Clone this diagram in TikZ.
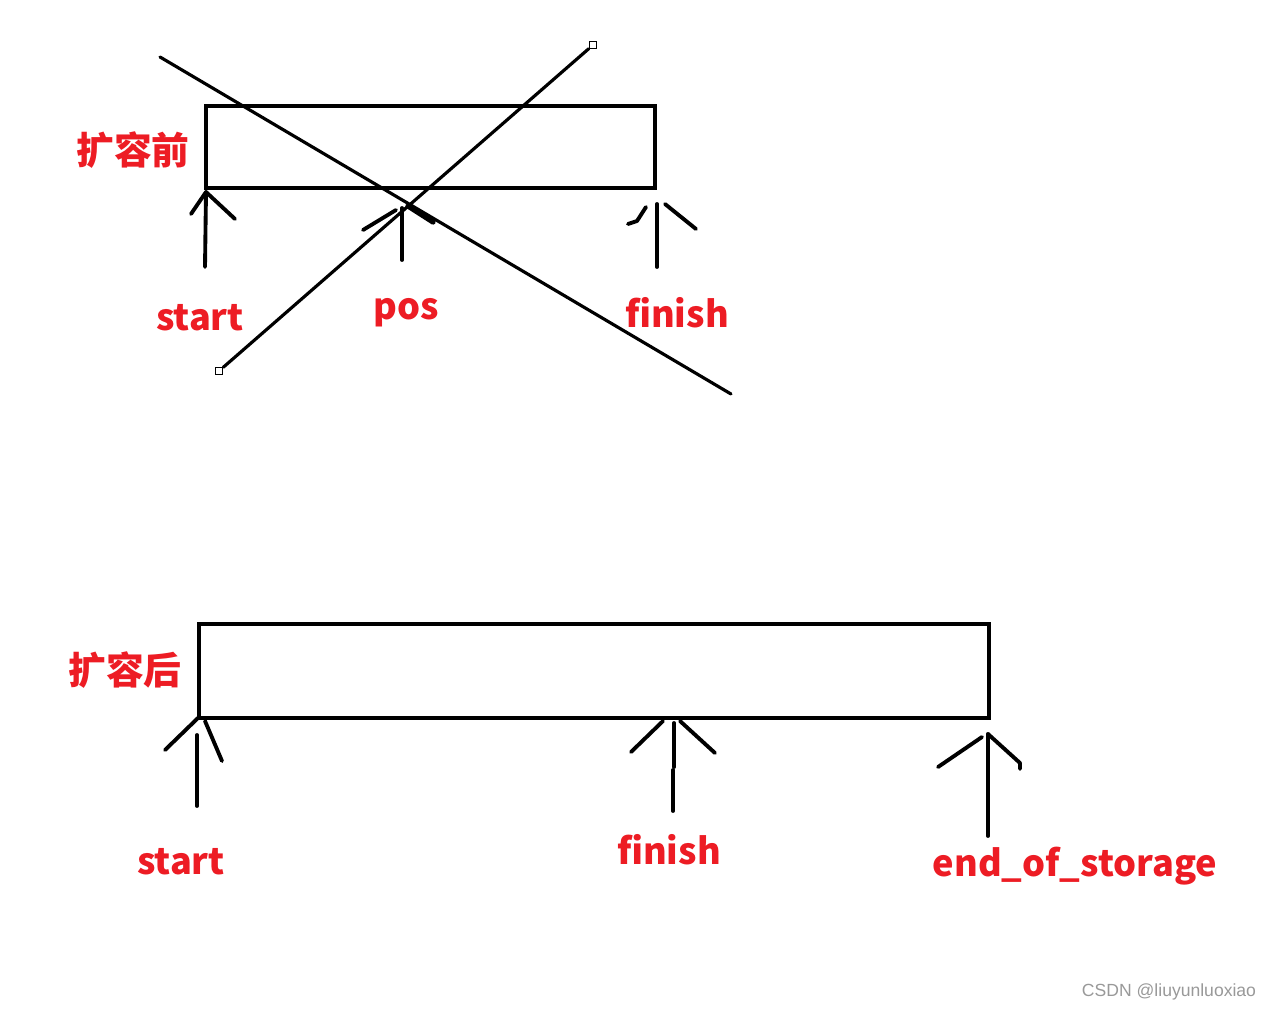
\documentclass[tikz,border=0pt]{standalone}
\usepackage{fontspec}
\newfontfamily\lab{Noto Sans CJK SC}
\newfontfamily\wm{Liberation Sans}
\definecolor{lblred}{RGB}{237,28,36}
\begin{document}
\begin{tikzpicture}[x=0.02cm,y=-0.02cm,
  box/.style={draw=black,line width=2.4pt},
  stroke/.style={draw=black,line width=2.2pt,line cap=round,line join=round},
  cross/.style={draw=black,line width=1.8pt,line cap=round},
  handle/.style={draw=black,fill=white,line width=0.5pt,minimum size=4.4pt,inner sep=0pt,rectangle},
  lbl/.style={text=lblred,font=\lab\bfseries\fontsize{20.6}{24}\selectfont,inner sep=0pt},
  cjk/.style={text=lblred,font=\lab\bfseries\fontsize{21.5}{24}\selectfont,inner sep=0pt},
  wmark/.style={text=black!40,font=\wm\fontsize{10}{12}\selectfont,inner sep=0pt}]
\useasboundingbox (0,0) rectangle (1273,1011);
\fill[white] (0,0) rectangle (1273,1011);
% boxes
\draw[box] (206,106) rectangle (655,188);
\draw[box] (199,624) rectangle (989,718);
% cross lines
\coordinate (c1a) at (160,57);
\coordinate (c1b) at (731,394);
\draw[cross] (c1a) -- (c1b);
\node[handle] (h1) at (593,45) {};
\node[handle] (h2) at (219,371) {};
\draw[cross] (h1) -- (h2);
% top arrows
\coordinate (ts1) at (205,267); \coordinate (ts2) at (206,192);
\coordinate (tsl) at (191,214); \coordinate (tsr) at (235,219);
\draw[stroke] (ts1) -- (ts2);
\draw[stroke] (tsl) -- (ts2) -- (tsr);
\coordinate (tp1) at (402,260); \coordinate (tp2) at (402,208);
\coordinate (tpl) at (363,230); \coordinate (tpla) at (396,210);
\coordinate (tpra) at (408,206); \coordinate (tpr) at (433,222);
\draw[stroke] (tp1) -- (tp2);
\draw[stroke] (tpl) -- (tpla);
\draw[stroke,line width=3pt] (tpra) -- (tpr);
\coordinate (tf1) at (657,267); \coordinate (tf2) at (657,204);
\coordinate (tfl1) at (628,224); \coordinate (tfl2) at (637,221); \coordinate (tfl3) at (646,207);
\coordinate (tfr1) at (665,204); \coordinate (tfr2) at (696,229);
\draw[stroke] (tf1) -- (tf2);
\draw[stroke] (tfl1) -- (tfl2) -- (tfl3);
\draw[stroke] (tfr1) -- (tfr2);
% bottom arrows
\coordinate (bs1) at (197,806); \coordinate (bs2) at (197,735);
\coordinate (bsa) at (199,717); \coordinate (bsl) at (165,750);
\coordinate (bsr1) at (205,721); \coordinate (bsr2) at (222,761);
\draw[stroke] (bs1) -- (bs2);
\draw[stroke] (bsl) -- (bsa);
\draw[stroke] (bsr1) -- (bsr2);
\coordinate (bf1) at (673,811); \coordinate (bf2) at (673,770);
\coordinate (bf3) at (674,767); \coordinate (bf4) at (674,723);
\coordinate (bfl1) at (631,752); \coordinate (bfl2) at (663,721);
\coordinate (bfr1) at (680,721); \coordinate (bfr2) at (715,753);
\draw[stroke] (bf1) -- (bf2);
\draw[stroke] (bf3) -- (bf4);
\draw[stroke] (bfl1) -- (bfl2);
\draw[stroke] (bfr1) -- (bfr2);
\coordinate (be1) at (988,836); \coordinate (be2) at (988,734);
\coordinate (bel1) at (938,767); \coordinate (bel2) at (982,737);
\coordinate (ber) at (1020,763); \coordinate (bert) at (1020,769);
\draw[stroke] (be1) -- (be2);
\draw[stroke] (bel1) -- (bel2);
\draw[stroke] (be2) -- (ber) -- (bert);
% labels
\node[cjk] (lbefore) at (133,150) {扩容前};
\node[lbl] (lstart1) at (200,318) {start};
\node[lbl] (lpos) at (406,313) {pos};
\node[lbl] (lfinish1) at (677,313) {finish};
\node[cjk] (lafter) at (125,670) {扩容后};
\node[lbl] (lstart2) at (181,862) {start};
\node[lbl] (lfinish2) at (669,850) {finish};
\node[lbl] (lend) at (1075,866) {end\_of\_storage};
\node[wmark] (wmk) at (1169,992) {CSDN @liuyunluoxiao};
\end{tikzpicture}
\end{document}
